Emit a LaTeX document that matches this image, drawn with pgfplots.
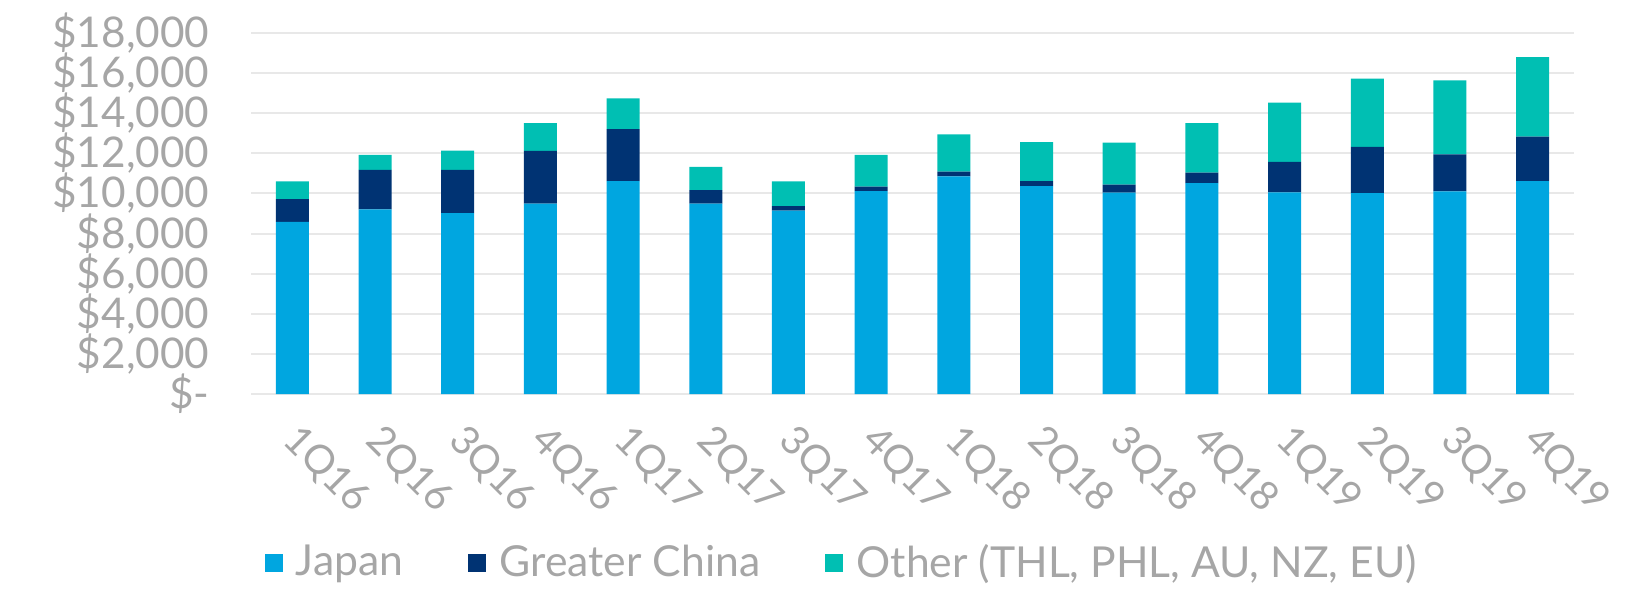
\documentclass[border=0pt]{standalone}
\usepackage{pgfplots}
\pgfplotsset{compat=1.18}
\usepackage{fontspec}
\setmainfont{Lato}
\definecolor{japan}{HTML}{00A6E0}
\definecolor{china}{HTML}{003373}
\definecolor{other}{HTML}{00BFB3}
\definecolor{txt}{HTML}{A6A6A6}
\definecolor{grid}{HTML}{E8E8E8}
\begin{document}
\begin{tikzpicture}
\path[use as bounding box] (-75.3pt,-59.4pt) rectangle (416.7pt,118.2pt);
\begin{axis}[
  scale only axis,
  width=396.9pt, height=108.3pt,
  at={(0,0)}, anchor=south west,
  ybar stacked,
  bar width=9.9pt,
  xmin=-0.5, xmax=15.5,
  ymin=0, ymax=18000,
  scaled y ticks=false,
  xtick={0,...,15},
  xticklabels={1Q16,2Q16,3Q16,4Q16,1Q17,2Q17,3Q17,4Q17,1Q18,2Q18,3Q18,4Q18,1Q19,2Q19,3Q19,4Q19},
  ytick={0,2000,...,18000},
  yticklabels={{\$-},{\$2,000},{\$4,000},{\$6,000},{\$8,000},{\$10,000},{\$12,000},{\$14,000},{\$16,000},{\$18,000}},
  major tick length=0pt,
  axis line style={draw=none},
  ymajorgrids,
  major grid style={draw=grid, line width=0.6pt},
  yticklabel style={font=\fontsize{12.7}{15}\selectfont, text=txt, inner sep=0pt, anchor=east, xshift=-12.3pt},
  xticklabel style={font=\fontsize{12}{14}\selectfont, text=txt, inner sep=0pt, xshift=3pt, yshift=-8pt, rotate=-45, anchor=north west},
  legend columns=3,
  legend style={draw=none, fill=none, at={(0.0098,-0.468)}, anchor=west, inner sep=0pt,
    font=\fontsize{12.8}{15}\selectfont, text=txt,
    nodes={inner sep=0pt, text=txt},
    column sep=4pt,
    /tikz/every even column/.append style={column sep=19.5pt}},
  legend image code/.code={\fill[#1] (0pt,-2.7pt) rectangle (5.4pt,2.7pt);},
]
\addplot[fill=japan, draw=none] coordinates {
(0,8580) (1,9210) (2,9020) (3,9490) (4,10620) (5,9490) (6,9140) (7,10120)
(8,10850) (9,10370) (10,10040) (11,10520) (12,10050) (13,10020) (14,10100) (15,10620)};
\addplot[fill=china, draw=none] coordinates {
(0,1140) (1,1970) (2,2150) (3,2630) (4,2590) (5,680) (6,230) (7,220)
(8,240) (9,250) (10,400) (11,520) (12,1530) (13,2300) (14,1850) (15,2210)};
\addplot[fill=other, draw=none] coordinates {
(0,880) (1,740) (2,960) (3,1390) (4,1530) (5,1150) (6,1230) (7,1580)
(8,1860) (9,1940) (10,2090) (11,2470) (12,2950) (13,3400) (14,3690) (15,3970)};
\legend{Japan, Greater China, {Other (THL, PHL, AU, NZ, EU)}}
\end{axis}
\end{tikzpicture}
\end{document}
